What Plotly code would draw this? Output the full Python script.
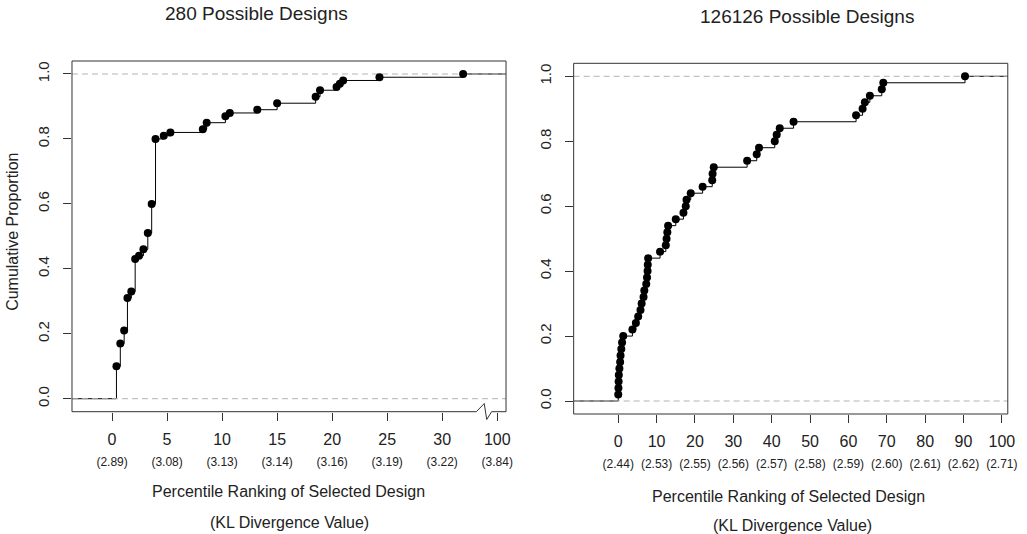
import plotly.graph_objects as go

# ---------------- data ----------------
left_title = "280 Possible Designs"
right_title = "126126 Possible Designs"

# left panel: percentile ranking (axis broken after 30; "100" drawn at position 35)
left_rank = [0.4, 0.75, 1.1, 1.4, 1.75, 2.1, 2.45, 2.85, 3.25, 3.6, 3.95, 4.7, 5.3,
             8.25, 8.6, 10.3, 10.7, 13.2, 15.0, 18.5, 18.9, 20.4, 20.7, 21.0, 24.3, 31.9]
left_cum = [0.10, 0.17, 0.21, 0.31, 0.33, 0.43, 0.44, 0.46, 0.51, 0.60, 0.80, 0.81, 0.82,
            0.83, 0.85, 0.87, 0.88, 0.89, 0.91, 0.93, 0.95, 0.96, 0.97, 0.98, 0.99, 1.00]
left_tickvals = [0, 5, 10, 15, 20, 25, 30, 35]
left_tick_pct = ["0", "5", "10", "15", "20", "25", "30", "100"]
left_tick_kl = ["(2.89)", "(3.08)", "(3.13)", "(3.14)", "(3.16)", "(3.19)", "(3.22)", "(3.84)"]

# right panel
right_rank = [0.0, 0.05, 0.1, 0.15, 0.3, 0.5, 0.6, 0.8, 1.0, 1.3,
              3.7, 4.6, 5.2, 5.8, 6.1, 6.6, 6.8, 7.3, 7.5, 7.65, 7.7, 7.8,
              10.9, 12.4, 12.6, 12.8, 13.0, 15.0, 17.0, 17.6, 17.8, 18.9, 22.0, 24.5, 24.6, 24.9,
              33.6, 36.1, 36.7, 40.8, 41.3, 42.1, 45.7,
              62.0, 63.7, 64.3, 65.6, 68.7, 69.1, 90.4]
right_cum = [0.02, 0.04, 0.06, 0.08, 0.10, 0.12, 0.14, 0.16, 0.18, 0.20,
             0.22, 0.24, 0.26, 0.28, 0.30, 0.32, 0.34, 0.36, 0.38, 0.40, 0.42, 0.44,
             0.46, 0.48, 0.50, 0.52, 0.54, 0.56, 0.58, 0.60, 0.62, 0.64, 0.66, 0.68, 0.70, 0.72,
             0.74, 0.76, 0.78, 0.80, 0.82, 0.84, 0.86,
             0.88, 0.90, 0.92, 0.94, 0.96, 0.98, 1.00]
right_tickvals = [0, 10, 20, 30, 40, 50, 60, 70, 80, 90, 100]
right_tick_pct = ["0", "10", "20", "30", "40", "50", "60", "70", "80", "90", "100"]
right_tick_kl = ["(2.44)", "(2.53)", "(2.55)", "(2.56)", "(2.57)", "(2.58)", "(2.59)",
                 "(2.60)", "(2.61)", "(2.62)", "(2.71)"]

y_tickvals = [0, 0.2, 0.4, 0.6, 0.8, 1.0]
y_ticktext = ["0.0", "0.2", "0.4", "0.6", "0.8", "1.0"]

x_title = "Percentile Ranking of Selected Design"
x_subtitle = "(KL Divergence Value)"
y_title = "Cumulative Proportion"

# ---------------- styling ----------------
W, H = 1027, 534
FONT = "Liberation Sans, Arial, sans-serif"
TXT = "#222222"
FRAME = "#333333"
LX = [-3.64, 35.8]
RX = [-11.62, 101.55]
YR = [-0.04, 1.04]
# frame pixel boxes (left, right, top, bottom)
LF = (72.7, 511.0, 61.0, 411.7)
RF = (579.3, 1017.7, 63.3, 414.0)


def ticks(pcts, kls):
    return [f"{p}<br><span style='font-size:12px'>{k}</span>" for p, k in zip(pcts, kls)]


fig = go.Figure()


def add_panel(rank, cum, xr, xa, ya):
    fig.add_trace(go.Scatter(
        x=[xr[0]] + rank + [xr[1]], y=[0] + cum + [1],
        mode="lines", line=dict(color="black", width=1, shape="hv"),
        xaxis=xa, yaxis=ya, showlegend=False, hoverinfo="skip"))
    fig.add_trace(go.Scatter(
        x=[xr[0], xr[1], None, xr[0], xr[1]], y=[0, 0, None, 1, 1],
        mode="lines", line=dict(color="#b3b3b3", width=1, dash="6px,4px"),
        xaxis=xa, yaxis=ya, showlegend=False, hoverinfo="skip"))
    fig.add_trace(go.Scatter(
        x=rank, y=cum, mode="markers",
        marker=dict(color="black", size=8, line=dict(width=0)),
        xaxis=xa, yaxis=ya, showlegend=False))


add_panel(left_rank, left_cum, LX, "x", "y")
add_panel(right_rank, right_cum, RX, "x2", "y2")

xcommon = dict(showgrid=False, zeroline=False, showline=False, ticks="outside",
               ticklen=8, tickwidth=1, tickcolor=FRAME, ticklabelstandoff=5,
               tickfont=dict(family=FONT, size=16, color=TXT), tickangle=0)
ycommon = dict(showgrid=False, zeroline=False, showline=False, ticks="outside",
               ticklen=8, tickwidth=1, tickcolor=FRAME, range=YR, ticklabelstandoff=8,
               tickvals=y_tickvals, ticktext=y_ticktext, tickangle=-90,
               tickfont=dict(family=FONT, size=15, color=TXT))

fig.update_layout(
    width=W, height=H, autosize=False,
    margin=dict(l=0, r=0, t=0, b=0),
    paper_bgcolor="white", plot_bgcolor="white",
    xaxis=dict(domain=[LF[0] / W, LF[1] / W], range=LX, anchor="y",
               tickvals=left_tickvals, ticktext=ticks(left_tick_pct, left_tick_kl), **xcommon),
    yaxis=dict(domain=[1 - LF[3] / H, 1 - LF[2] / H], anchor="x", **ycommon),
    xaxis2=dict(domain=[RF[0] / W, RF[1] / W], range=RX, anchor="y2",
                tickvals=right_tickvals, ticktext=ticks(right_tick_pct, right_tick_kl), **xcommon),
    yaxis2=dict(domain=[1 - RF[3] / H, 1 - RF[2] / H], anchor="x2", **ycommon),
)


def px(x):
    return x / W


def py(y):
    return 1 - y / H


line = dict(color=FRAME, width=1)
shapes = []
# left frame (bottom edge carries the axis break zigzag)
l, r, t, b = LF
path = (f"M {px(l)} {py(b)} L {px(l)} {py(t)} L {px(r)} {py(t)} L {px(r)} {py(b)} "
        f"L {px(496.5)} {py(b)} L {px(491.5)} {py(419.5)} L {px(489)} {py(403.5)} "
        f"L {px(481)} {py(b)} Z")
shapes.append(dict(type="path", xref="paper", yref="paper", path=path, line=line,
                   fillcolor="rgba(0,0,0,0)"))
# white gap over the closing segment of the path between the zigzag ends is not needed:
# the path closes along the bottom edge from 481 back to the left corner.
# right frame
shapes.append(dict(type="rect", xref="x2 domain", yref="y2 domain", x0=0, x1=1, y0=0, y1=1,
                   line=line, fillcolor="rgba(0,0,0,0)"))
fig.update_layout(shapes=shapes)

ann = []


def txt(text, x, y, size, angle=0):
    ann.append(dict(text=text, x=x / W, y=1 - y / H, xref="paper", yref="paper",
                    showarrow=False, xanchor="center", yanchor="middle", textangle=angle,
                    font=dict(family=FONT, size=size, color=TXT)))


txt(left_title, 259, 14, 19)
txt(right_title, 815, 17, 19)
txt(x_title, 291, 491, 16)
txt(x_subtitle, 292, 522, 16)
txt(x_title, 796, 496, 16)
txt(x_subtitle, 800, 525, 16)
txt(y_title, 13, 232, 16, -90)
fig.update_layout(annotations=ann)

fig.write_html("out.html")
